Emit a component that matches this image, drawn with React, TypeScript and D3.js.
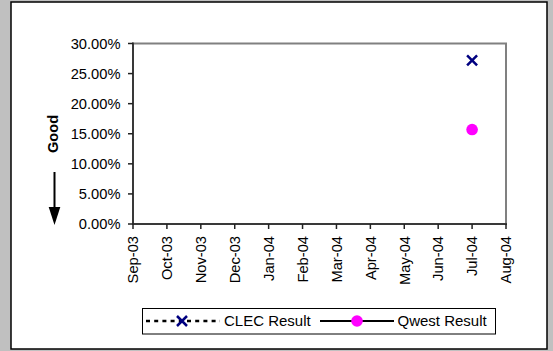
import React from "react";
import * as d3 from "d3";

const months = ["Sep-03","Oct-03","Nov-03","Dec-03","Jan-04","Feb-04","Mar-04","Apr-04","May-04","Jun-04","Jul-04","Aug-04"];
const clecValues: (number | null)[] = [null,null,null,null,null,null,null,null,null,null,0.272,null];
const qwestValues: (number | null)[] = [null,null,null,null,null,null,null,null,null,null,0.157,null];
const yTicks = [0,0.05,0.1,0.15,0.2,0.25,0.3];

const W = 553, H = 351;
const plot = { left: 133, right: 506, top: 43.5, bottom: 224 };
const FONT = "Arial, 'Liberation Sans', sans-serif";

export default function App() {
  const x = d3.scalePoint<string>().domain(months).range([plot.left, plot.right]);
  const y = d3.scaleLinear().domain([0, 0.3]).range([plot.bottom, plot.top]);
  const fmt = d3.format(".2%");
  const line = d3.line<[string, number | null]>()
    .defined(d => d[1] !== null)
    .x(d => x(d[0]) as number)
    .y(d => y(d[1] as number));
  const clecPts = months.map((m, i) => [m, clecValues[i]] as [string, number | null]);
  const qwestPts = months.map((m, i) => [m, qwestValues[i]] as [string, number | null]);
  const xs = 5;

  return (
    <svg width={W} height={H} style={{ position: "absolute", left: 0, top: 0 }} fontFamily={FONT}>
      <rect x={0} y={0} width={W} height={H} fill="#c0c0c0" />
      <rect x={11} y={2} width={536} height={347} fill="#fff" stroke="#000" strokeWidth={1.5} />
      {/* plot frame */}
      <rect x={plot.left} y={plot.top} width={plot.right - plot.left} height={plot.bottom - plot.top} fill="#fff" stroke="#808080" strokeWidth={2} />
      <line x1={plot.left} x2={plot.left} y1={plot.top - 1} y2={plot.bottom} stroke="#222" strokeWidth={1.5} />
      <line x1={plot.left} x2={plot.right + 1} y1={plot.bottom} y2={plot.bottom} stroke="#222" strokeWidth={1.5} />
      {/* y axis */}
      {yTicks.map(t => (
        <g key={t}>
          <line x1={plot.left - 5} x2={plot.left} y1={y(t)} y2={y(t)} stroke="#222" strokeWidth={1.5} />
          <text x={120.5} y={y(t)} dy="0.36em" textAnchor="end" fontSize={14.7} fill="#000">{fmt(t)}</text>
        </g>
      ))}
      {/* x axis */}
      {months.map(m => (
        <g key={m}>
          <line x1={x(m)} x2={x(m)} y1={plot.bottom} y2={plot.bottom + 5} stroke="#222" strokeWidth={1.5} />
          <text transform={`translate(${(x(m) as number)},236) rotate(-90)`} dy="0.36em" textAnchor="end" fontSize={14.7} fill="#000">{m}</text>
        </g>
      ))}
      {/* series */}
      <path d={line(clecPts) || ""} fill="none" stroke="#000" strokeWidth={2} strokeDasharray="4,4" />
      <path d={line(qwestPts) || ""} fill="none" stroke="#000" strokeWidth={2} />
      {clecPts.filter(d => d[1] !== null).map(d => {
        const cx = x(d[0]) as number, cy = y(d[1] as number);
        return <path key={d[0]} d={`M${cx - xs},${cy - xs}L${cx + xs},${cy + xs}M${cx - xs},${cy + xs}L${cx + xs},${cy - xs}`} stroke="#000080" strokeWidth={2.5} />;
      })}
      {qwestPts.filter(d => d[1] !== null).map(d => (
        <circle key={d[0]} cx={x(d[0]) as number} cy={y(d[1] as number)} r={5.8} fill="#ff00ff" />
      ))}
      {/* Good label + arrow */}
      <text transform="translate(53,134) rotate(-90)" dy="0.36em" textAnchor="middle" fontSize={14.6} fontWeight="bold" fill="#000">Good</text>
      <line x1={54.5} x2={54.5} y1={172} y2={210} stroke="#000" strokeWidth={2} />
      <path d="M48.7,207L60.3,207L54.5,225Z" fill="#000" />
      {/* legend */}
      <rect x={142.5} y={308.5} width={353} height={25.5} fill="#fff" stroke="#000" strokeWidth={1} />
      <line x1={146} x2={220} y1={321} y2={321} stroke="#000" strokeWidth={2.5} strokeDasharray="4,4.2" />
      <path d={`M${182 - xs},${321 - xs}L${182 + xs},${321 + xs}M${182 - xs},${321 + xs}L${182 + xs},${321 - xs}`} stroke="#000080" strokeWidth={2.5} />
      <text x={224} y={321} dy="0.36em" fontSize={15} fill="#000">CLEC Result</text>
      <line x1={320} x2={394} y1={321} y2={321} stroke="#000" strokeWidth={2} />
      <circle cx={357} cy={321} r={5.8} fill="#ff00ff" />
      <text x={397.5} y={321} dy="0.36em" fontSize={15} fill="#000">Qwest Result</text>
    </svg>
  );
}
